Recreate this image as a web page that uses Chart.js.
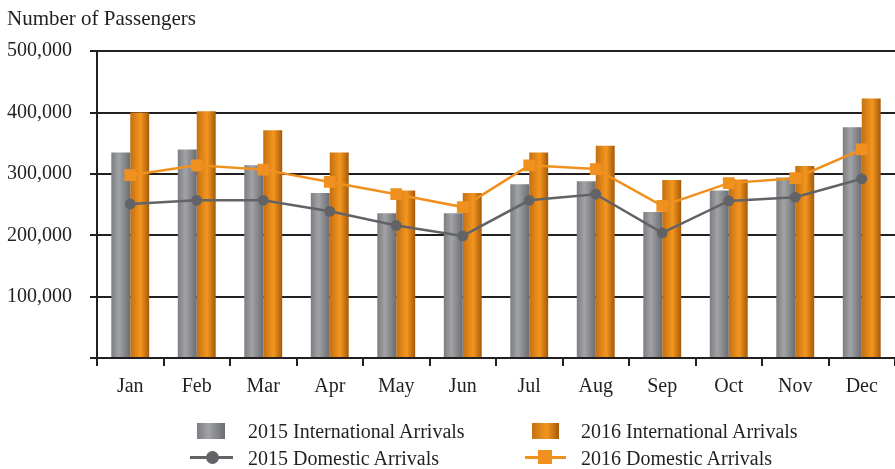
<!DOCTYPE html>
<html>
<head>
<meta charset="utf-8">
<script src="https://cdn.jsdelivr.net/npm/chart.js@4.4.0/dist/chart.umd.min.js"></script>
<style>
  body { margin: 0; background: #fff; }
  #wrap { position: relative; width: 895px; height: 469px; }
  #legend { position: absolute; left: 0; top: 0; width: 895px; height: 469px; pointer-events: none;
    font-family: "Liberation Serif", "DejaVu Serif", serif; font-size: 20px; line-height: 24px; color: #231f20; }
  #legend span { position: absolute; white-space: nowrap; }
</style>
</head>
<body>
<div id="wrap">
  <canvas id="chart" width="895" height="469"></canvas>
  <div id="legend"></div>
</div>
<script>
// data
const months = ["Jan", "Feb", "Mar", "Apr", "May", "Jun", "Jul", "Aug", "Sep", "Oct", "Nov", "Dec"];
const intl2015 = [335000, 340000, 314000, 269000, 236000, 236000, 283000, 288000, 238000, 273000, 294000, 376000];
const intl2016 = [400000, 402000, 371000, 335000, 273000, 269000, 335000, 346000, 290000, 291000, 313000, 423000];
const dom2015 = [251000, 257000, 257000, 239000, 216000, 199000, 257000, 267000, 204000, 256000, 262000, 292000];
const dom2016 = [298000, 314000, 307000, 287000, 267000, 246000, 314000, 308000, 248000, 285000, 293000, 340000];
const yTicks = [0, 100000, 200000, 300000, 400000, 500000];

const seriesNames = ["2015 International Arrivals", "2016 International Arrivals", "2015 Domestic Arrivals", "2016 Domestic Arrivals"];

const grayStops = [[0, "#7c7d81"], [0.4, "#a2a3a7"], [1, "#6c6d70"]];
const orangeStops = [[0, "#c47012"], [0.55, "#f4961f"], [1, "#a45a0a"]];
const catPct = 0.57;

const ink = "#231f20";
const font = { family: "'Liberation Serif', 'DejaVu Serif', serif", size: 20, weight: "normal" };

// horizontal shading for each bar, computed from the x scale
function barGradient(stops, which) {
  return function (ctx) {
    const chart = ctx.chart;
    const xs = chart.scales.x;
    if (!chart.chartArea || !xs) return stops[1][1];
    const catW = xs.width / months.length;
    const barW = catW * catPct / 2;
    const c = xs.getPixelForValue(ctx.dataIndex);
    const left = which == 0 ? c - barW : c;
    const g = chart.ctx.createLinearGradient(left, 0, left + barW, 0);
    stops.forEach((s) => g.addColorStop(s[0], s[1]));
    return g;
  };
}

new Chart(document.getElementById("chart"), {
  type: "bar",
  data: {
    labels: months,
    datasets: [
      { type: "line", label: seriesNames[2], data: dom2015, borderColor: "#626366", backgroundColor: "#626366",
        borderWidth: 2.5, pointStyle: "circle", pointRadius: 5.4, pointBorderWidth: 0, order: 1 },
      { type: "line", label: seriesNames[3], data: dom2016, borderColor: "#f0901e", backgroundColor: "#f0901e",
        borderWidth: 2.5, pointStyle: "rect", pointRadius: 8.3, pointBorderWidth: 0, order: 0 },
      { label: seriesNames[0], data: intl2015, backgroundColor: barGradient(grayStops, 0),
        barPercentage: 1, categoryPercentage: catPct, order: 2 },
      { label: seriesNames[1], data: intl2016, backgroundColor: barGradient(orangeStops, 1),
        barPercentage: 1, categoryPercentage: catPct, order: 3 },
    ],
  },
  options: {
    responsive: false,
    animation: false,
    layout: { autoPadding: false, padding: { left: 7, right: 0, top: 0, bottom: 61 } },
    plugins: {
      legend: { display: false },
      tooltip: { enabled: false },
      title: {
        display: true, text: "Number of Passengers", align: "start", color: ink,
        font: { ...font, size: 21 }, padding: { top: 7, bottom: 19 },
      },
    },
    scales: {
      x: {
        grid: { drawOnChartArea: false, drawTicks: true, tickLength: 8, color: ink, lineWidth: 2, offset: true },
        border: { color: ink, width: 2 },
        ticks: { color: ink, font: font, padding: 9 },
      },
      y: {
        min: 0, max: 500000,
        afterBuildTicks: (axis) => { axis.ticks = yTicks.map((v) => ({ value: v })); },
        grid: { color: ink, lineWidth: 2, tickLength: 7 },
        border: { color: ink, width: 2 },
        ticks: {
          color: ink, font: font, padding: 9, crossAlign: "far",
          callback: (v) => (v == 0 ? "" : v.toLocaleString("en-US")),
        },
      },
    },
  },
});

// legend in two columns, as in the original
function cssGrad(stops) {
  return "linear-gradient(to right, " + stops.map((s) => s[1] + " " + s[0] * 100 + "%").join(", ") + ")";
}
const legend = document.getElementById("legend");
function addSpan(css, text) {
  const s = document.createElement("span");
  s.style.cssText = css;
  if (text) s.textContent = text;
  legend.appendChild(s);
}
// boxes for the bars
addSpan(`left:197px;top:423px;width:28px;height:16px;background:${cssGrad(grayStops)}`);
addSpan(`left:532px;top:423px;width:27px;height:16px;background:${cssGrad(orangeStops)}`);
// lines with markers
addSpan("left:190px;top:456px;width:43px;height:3px;background:#626366");
addSpan("left:206px;top:451px;width:13px;height:13px;border-radius:50%;background:#626366");
addSpan("left:525px;top:456px;width:41px;height:3px;background:#f0901e");
addSpan("left:538px;top:450px;width:14px;height:14px;background:#f0901e");
// texts
addSpan("left:248px;top:419px", seriesNames[0]);
addSpan("left:581px;top:419px", seriesNames[1]);
addSpan("left:248px;top:446px", seriesNames[2]);
addSpan("left:581px;top:446px", seriesNames[3]);
</script>
</body>
</html>
